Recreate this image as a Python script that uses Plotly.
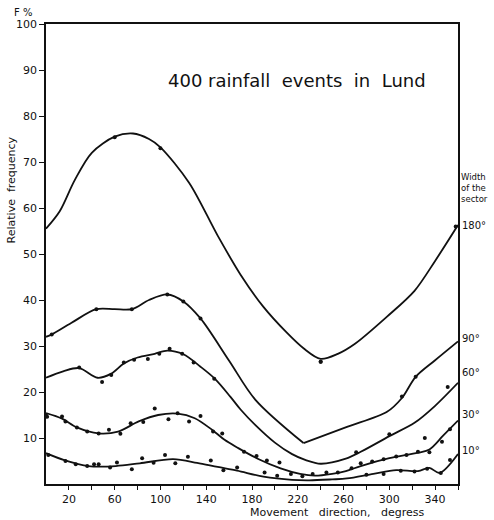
import plotly.graph_objects as go

# ---- data ----
# smooth fitted curves (direction in degrees, relative frequency %)
c180_deg = [0, 12, 25, 40, 60, 76, 90, 100, 125, 150, 170, 190, 210, 225, 240, 255, 270, 298, 322, 340, 360]
c180_val = [55.5, 59.3, 66, 72, 75.5, 76.2, 75, 73.2, 65.5, 54, 45.5, 38.5, 33, 29.5, 27.2, 28.3, 30.5, 36.4, 42, 48.5, 56.3]
p180_deg = [60, 100, 240, 358]
p180_val = [75.4, 73.0, 26.6, 56.0]

c90a_deg = [0, 5, 22, 44, 60, 75, 90, 106, 120, 135, 160, 183, 225]
c90a_val = [32, 32.5, 35, 38, 38, 38, 40, 41.2, 39.7, 36, 26.8, 18.3, 8.9]
c90b_deg = [225, 263, 298, 311, 323, 340, 360]
c90b_val = [8.9, 12.4, 15.7, 18.7, 23.3, 26.9, 31]
p90_deg = [5, 44, 75, 106, 120, 135, 240, 311, 323]
p90_val = [32.5, 38, 38, 41.2, 39.7, 36, 26.6, 19, 23.3]

c60_deg = [0, 15, 29, 45, 57, 68, 80, 95, 106, 120, 135, 147, 161, 170, 183, 200, 215, 227, 240, 262, 275, 300, 322, 340, 360]
c60_val = [23.1, 24.5, 25.2, 23.1, 24, 26.2, 27.5, 28.3, 29, 28.2, 25.5, 23, 19, 16.2, 12.8, 9, 6.5, 5.2, 4.4, 5.5, 7, 10.4, 13.3, 17, 22]
p60_deg = [29, 49, 57, 68, 77, 89, 99, 108, 119, 129, 147, 271, 300, 351]
p60_val = [25.3, 22.2, 23.7, 26.4, 27, 27.2, 28.3, 29.4, 28.3, 26.4, 22.9, 6.9, 10.8, 21.1]

c30_deg = [0, 14, 27, 46, 63, 81, 98, 115, 130, 145, 156, 168, 185, 205, 222, 235, 250, 262, 275, 300, 325, 335, 347, 360]
c30_val = [15.4, 14.2, 12.3, 11.0, 11.4, 13.6, 15.0, 15.3, 14.3, 11.8, 9.6, 7.8, 5.5, 3.4, 2.2, 1.8, 2.2, 2.8, 3.9, 5.6, 6.8, 7.5, 10.5, 13.8]
p30_deg = [0, 1, 14, 17, 27, 36, 46, 55, 65, 74, 85, 95, 107, 115, 125, 135, 146, 154, 173, 184, 193, 204,
           267, 275, 285, 295, 306, 315, 325, 331, 335, 346, 353]
p30_val = [15.0, 14.6, 14.7, 13.6, 12.3, 11.4, 11.0, 11.8, 10.9, 13.2, 13.5, 16.4, 14.1, 15.4, 13.6, 14.8, 11.4, 11.0, 7.0, 6.1, 5.1, 4.7,
           3.4, 4.5, 4.9, 5.4, 6.0, 6.3, 7.0, 10.0, 6.9, 9.2, 11.9]

c10_deg = [0, 16, 37, 61, 82, 111, 132, 150, 167, 190, 215, 230, 250, 263, 286, 306, 325, 335, 344, 360]
c10_val = [6.7, 5.2, 3.9, 3.9, 4.5, 5.4, 4.6, 3.7, 2.9, 1.6, 0.9, 0.8, 1.0, 1.2, 2.2, 3.0, 2.8, 3.5, 2.4, 6.5]
p10_deg = [2, 17, 26, 36, 42, 46, 56, 62, 75, 84, 94, 104, 113, 124, 144, 155, 167, 191, 202, 214, 224, 233, 245, 255,
           280, 295, 310, 322, 333, 345, 353]
p10_val = [6.3, 5.0, 4.3, 3.9, 4.3, 4.3, 3.6, 4.7, 3.2, 5.6, 4.6, 6.3, 4.5, 5.9, 5.1, 3.0, 3.6, 2.5, 1.8, 2.2, 1.7, 2.2, 2.5, 2.5,
           2.0, 2.2, 2.9, 2.7, 3.3, 2.4, 5.2]

x_tickvals = [20, 40, 60, 80, 100, 120, 140, 160, 180, 200, 220, 240, 260, 280, 300, 320, 340, 360]
x_ticktext = ["20", "", "60", "", "100", "", "140", "", "180", "", "220", "", "260", "", "300", "", "340", ""]
y_tickvals = [10, 20, 30, 40, 50, 60, 70, 80, 90, 100]
y_ticktext = ["10", "20", "30", "40", "50", "60", "70", "80", "90", "100"]

sector_labels = ["180°", "90°", "60°", "30°", "10°"]
sector_label_y = [56.1, 31.7, 24.3, 15.2, 7.2]

FONT = "DejaVu Sans"
INK = "#111111"

fig = go.Figure()

curves = [
    (c180_deg, c180_val),
    (c90a_deg, c90a_val),
    (c90b_deg, c90b_val),
    (c60_deg, c60_val),
    (c30_deg, c30_val),
    (c10_deg, c10_val),
]
for xs, ys in curves:
    fig.add_trace(go.Scatter(x=xs, y=ys, mode="lines",
                             line=dict(color=INK, width=1.8, shape="spline", smoothing=0.9),
                             hoverinfo="skip", showlegend=False))

points = [
    (p180_deg, p180_val),
    (p90_deg, p90_val),
    (p60_deg, p60_val),
    (p30_deg, p30_val),
    (p10_deg, p10_val),
]
for xs, ys in points:
    fig.add_trace(go.Scatter(x=xs, y=ys, mode="markers",
                             marker=dict(color=INK, size=4),
                             hoverinfo="skip", showlegend=False))

fig.update_xaxes(range=[0, 360], tickvals=x_tickvals, ticktext=x_ticktext,
                 showline=True, linecolor=INK, linewidth=1.5, mirror=True,
                 ticks="outside", ticklen=4, tickcolor=INK, tickwidth=1.2,
                 showgrid=False, zeroline=False,
                 tickfont=dict(family=FONT, size=11, color=INK))
fig.update_yaxes(range=[0, 100], tickvals=y_tickvals, ticktext=y_ticktext,
                 showline=True, linecolor=INK, linewidth=1.5, mirror=True,
                 ticks="outside", ticklen=5, tickcolor=INK, tickwidth=1.2,
                 showgrid=False, zeroline=False,
                 tickfont=dict(family=FONT, size=11, color=INK))

ann = []
ann.append(dict(text="400\u00a0rainfall\u00a0\u00a0events\u00a0\u00a0in\u00a0\u00a0Lund",
                xref="paper", yref="paper", x=0.609, y=0.878,
                xanchor="center", yanchor="middle",
                showarrow=False, font=dict(family=FONT, size=18, color=INK)))
ann.append(dict(text="Relative\u00a0\u00a0frequency", textangle=-90,
                xref="paper", yref="paper", x=-0.083, y=0.64,
                xanchor="center", yanchor="middle",
                showarrow=False, font=dict(family=FONT, size=11, color=INK)))
ann.append(dict(text="F %", xref="paper", yref="paper", x=-0.055, y=1.026,
                xanchor="center", yanchor="middle",
                showarrow=False, font=dict(family=FONT, size=10, color=INK)))
ann.append(dict(text="Movement\u00a0\u00a0\u00a0direction,\u00a0\u00a0\u00a0degress",
                xref="paper", yref="paper", x=0.706, y=-0.063,
                xanchor="center", yanchor="middle",
                showarrow=False, font=dict(family=FONT, size=11, color=INK)))
ann.append(dict(text="Width<br>of the<br>sector", xref="paper", yref="y",
                x=1.003, y=64.4, xanchor="left", yanchor="middle", align="left",
                showarrow=False, font=dict(family=FONT, size=8.5, color=INK)))
for lab, yv in zip(sector_labels, sector_label_y):
    ann.append(dict(text=lab, xref="paper", yref="y", x=1.006, y=yv,
                    xanchor="left", yanchor="middle", showarrow=False,
                    font=dict(family=FONT, size=10, color=INK)))

fig.update_layout(width=494, height=520,
                  margin=dict(l=46, r=36, t=24, b=36),
                  paper_bgcolor="white", plot_bgcolor="white",
                  annotations=ann)

# remove the default page margin so the 494x520 figure fills the window exactly
fig.write_html("out.html",
               config={"displayModeBar": False},
               post_script="document.body.style.margin='0px';"
                           "document.documentElement.style.overflow='hidden';")
